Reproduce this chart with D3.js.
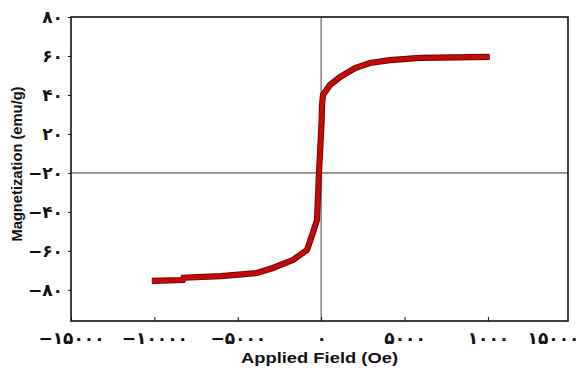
<!DOCTYPE html>
<html>
<head>
<meta charset="utf-8">
<script src="https://cdn.jsdelivr.net/npm/d3@7"></script>
<style>
  body { margin: 0; background: #fff; }
</style>
</head>
<body>
<script>
    //Declare consts/global variables
        const width = 581;
        const height = 368;
        const plot = {left: 71, right: 568, top: 17, bottom: 321};

    //Data (Oe, emu/g)
        const fieldOe = [-10150, -8300, -8250, -6000, -3850, -2900, -1700, -850, -500, -250, -130, 30, 50, 110, 530, 1130, 2030, 2920, 4120, 5920, 8000, 10100];
        const magnet  = [-55.4, -55.0, -53.8, -53.0, -51.4, -48.8, -44.7, -39.6, -30.8, -24.2, 0, 27.1, 34.8, 40.0, 45.1, 49.2, 53.8, 56.4, 57.9, 59.0, 59.3, 59.5];

    //Tick values and labels (as printed in the figure)
        const xTicks = [-15000, -10000, -5000, 0, 5000, 10000, 15000];
        const xTickLabels = ["\u2212۱۵۰۰۰", "\u2212۱۰۰۰۰", "\u2212۵۰۰۰", "۰", "۵۰۰۰", "۱۰۰۰", "۱۵۰۰۰"];
        const yTicks = [80, 60, 40, 20, 0, -20, -40, -60];
        const yTickLabels = ["۸۰", "۶۰", "۴۰", "۲۰", "\u2212۲۰", "\u2212۴۰", "\u2212۶۰", "\u2212۸۰"];

        const data = fieldOe.map((h, i) => ({h: h, m: magnet[i]}));

    //Scales
        const xScale = d3.scaleLinear()
                        .domain([-15000, 14800])
                        .range([plot.left, plot.right]);

        const yScale = d3.scaleLinear()
                        .domain([-76, 80])
                        .range([plot.bottom, plot.top]);

    //SVG
        const svg = d3.select("body")
                    .append("svg")
                    .attr("width", width)
                    .attr("height", height);

    //zero lines
        svg.append("line")
            .attr("x1", plot.left).attr("x2", plot.right)
            .attr("y1", yScale(0)).attr("y2", yScale(0))
            .attr("stroke", "#8a8a8a").attr("stroke-width", 1.6);

        svg.append("line")
            .attr("x1", xScale(0)).attr("x2", xScale(0))
            .attr("y1", plot.top).attr("y2", plot.bottom)
            .attr("stroke", "#8a8a8a").attr("stroke-width", 1.6);

    //Curve - thin dark edge then red body
        const line = d3.line()
                       .x(d => xScale(d.h))
                       .y(d => yScale(d.m));

        svg.append("path")
            .datum(data)
            .attr("d", line)
            .attr("fill", "none")
            .attr("stroke", "#760000")
            .attr("stroke-width", 6.2);

        svg.append("path")
            .datum(data)
            .attr("d", line)
            .attr("fill", "none")
            .attr("stroke", "#c20a0a")
            .attr("stroke-width", 4.4);

    //Frame
        svg.append("rect")
            .attr("x", plot.left).attr("y", plot.top)
            .attr("width", plot.right - plot.left)
            .attr("height", plot.bottom - plot.top)
            .attr("fill", "none")
            .attr("stroke", "#111")
            .attr("stroke-width", 1.6);

    //Axes
        const bottomAxis = d3.axisBottom(xScale)
                             .tickValues(xTicks)
                             .tickSizeInner(-4).tickSizeOuter(0)
                             .tickPadding(11)
                             .tickFormat((d, i) => xTickLabels[i]);

        const leftAxis = d3.axisLeft(yScale)
                           .tickValues(yTicks)
                           .tickSizeInner(3).tickSizeOuter(0)
                           .tickPadding(5)
                           .tickFormat((d, i) => yTickLabels[i]);

        const gx = svg.append("g")
            .attr("transform", "translate(0," + plot.bottom + ")")
            .call(bottomAxis);

        const gy = svg.append("g")
            .attr("transform", "translate(" + plot.left + ",0)")
            .call(leftAxis);

        [gx, gy].forEach(g => {
            g.select(".domain").remove();
            g.selectAll("text")
             .attr("font-family", "'DejaVu Sans', sans-serif")
             .attr("font-weight", "bold")
             .attr("font-size", 17)
             .attr("fill", "#111");
            g.selectAll("line").attr("stroke", "#111");
        });

        // last x label sits inside the page edge, its tick is outside the frame
        gx.selectAll(".tick")
          .filter(d => d > xScale.domain()[1])
          .call(t => t.select("line").remove())
          .select("text")
          .attr("text-anchor", "end")
          .attr("dx", width - 2 - xScale(15000));

    //Axis titles
        svg.append("text")
            .attr("x", (plot.left + plot.right) / 2)
            .attr("y", 363)
            .attr("text-anchor", "middle")
            .attr("font-family", "'Liberation Sans', Arial, sans-serif")
            .attr("font-weight", "bold")
            .attr("font-size", 15.5)
            .attr("textLength", 157)
            .attr("lengthAdjust", "spacingAndGlyphs")
            .attr("fill", "#111")
            .text("Applied Field (Oe)");

        svg.append("text")
            .attr("transform", "translate(22,164) rotate(-90)")
            .attr("text-anchor", "middle")
            .attr("font-family", "'Liberation Sans', Arial, sans-serif")
            .attr("font-weight", "bold")
            .attr("font-size", 14.5)
            .attr("textLength", 155)
            .attr("lengthAdjust", "spacingAndGlyphs")
            .attr("fill", "#111")
            .text("Magnetization (emu/g)");
</script>
</body>
</html>
